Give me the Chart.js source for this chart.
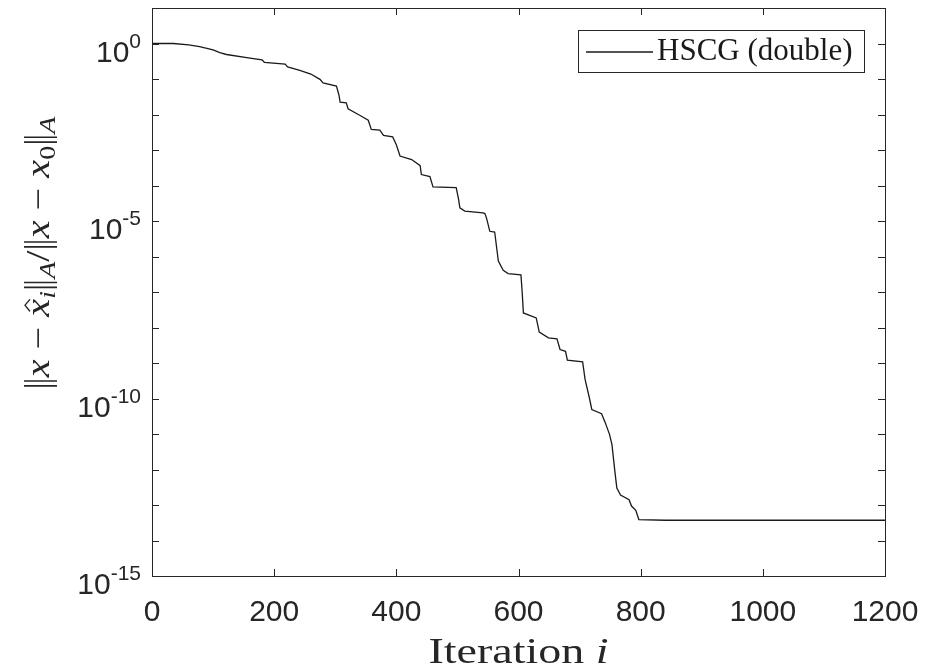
<!DOCTYPE html>
<html>
<head>
<meta charset="utf-8">
<script src="https://cdn.jsdelivr.net/npm/chart.js@4/dist/chart.umd.min.js"></script>
<style>
  html, body { margin: 0; padding: 0; background: #ffffff; }
  #c { display: block; }
</style>
</head>
<body>
<canvas id="c" width="930" height="671"></canvas>
<script>
// ---- Data ----
const iterations = [0, 35, 60, 78, 100, 111, 122, 155, 180, 184, 218, 222, 242, 260, 275, 280,
  302, 306, 308, 318, 321, 340, 354, 359, 373, 379, 394, 400, 406, 425, 439, 441, 455, 460,
  498, 502, 504, 512, 542, 545, 548, 553, 561, 567, 575, 583, 604, 606, 608, 629, 634, 649,
  663, 668, 677, 680, 705, 709, 716, 720, 736, 742, 749, 753, 758, 761, 767, 781, 785, 792,
  797, 840, 1200];
const errorHSCG = [1.0, 1.0, 0.912, 0.813, 0.661, 0.550, 0.490, 0.398, 0.347, 0.295, 0.263,
  0.219, 0.174, 0.138, 0.0977, 0.0776, 0.0631, 0.0355, 0.0224, 0.0214, 0.0145, 0.00955,
  0.00692, 0.00380, 0.00363, 0.00257, 0.00234, 0.00141, 6.76e-4, 5.37e-4, 3.63e-4, 2.04e-4,
  1.78e-4, 9.12e-5, 8.71e-5, 3.98e-5, 2.34e-5, 1.91e-5, 1.70e-5, 1.62e-5, 1.15e-5, 5.13e-6,
  4.90e-6, 7.41e-7, 4.07e-7, 3.31e-7, 3.02e-7, 1.0e-7, 2.57e-8, 1.86e-8, 7.41e-9, 5.13e-9,
  4.79e-9, 2.40e-9, 2.14e-9, 1.20e-9, 1.07e-9, 3.47e-10, 1.05e-10, 4.90e-11, 3.72e-11,
  2.09e-11, 9.77e-12, 5.01e-12, 8.13e-13, 3.02e-13, 1.91e-13, 1.41e-13, 9.33e-14, 7.08e-14,
  3.89e-14, 3.72e-14, 3.72e-14];
const seriesLabel = 'HSCG (double)';
const xTicks = [0, 200, 400, 600, 800, 1000, 1200];
const yDecades = [1, 0, -1, -2, -3, -4, -5, -6, -7, -8, -9, -10, -11, -12, -13, -14, -15];
const yLabelExponents = [0, -5, -10, -15];
const xTitle = ['Iteration ', 'i'];

const points = iterations.map((x, k) => ({ x: x, y: errorHSCG[k] }));

const SERIF = '"Liberation Serif", "Times New Roman", serif';
const SANS = '"Liberation Sans", Arial, sans-serif';

const decorPlugin = {
  id: 'decor',
  afterDraw(chart) {
    const ctx = chart.ctx;
    const a = chart.chartArea;
    const xs = chart.scales.x, ys = chart.scales.y;
    ctx.save();
    // frame
    ctx.strokeStyle = '#262626';
    ctx.lineWidth = 1;
    ctx.strokeRect(Math.round(a.left) + 0.5, Math.round(a.top) + 0.5,
      Math.round(a.right - a.left), Math.round(a.bottom - a.top));
    // inner ticks
    const tl = 7;
    ctx.beginPath();
    xTicks.forEach(v => {
      const px = Math.round(xs.getPixelForValue(v)) + 0.5;
      ctx.moveTo(px, a.bottom); ctx.lineTo(px, a.bottom - tl);
      ctx.moveTo(px, a.top); ctx.lineTo(px, a.top + tl);
    });
    yDecades.forEach(e => {
      const py = Math.round(ys.getPixelForValue(Math.pow(10, e))) + 0.5;
      ctx.moveTo(a.left, py); ctx.lineTo(a.left + tl, py);
      ctx.moveTo(a.right, py); ctx.lineTo(a.right - tl, py);
    });
    ctx.stroke();

    // y tick labels 10^e
    ctx.fillStyle = '#262626';
    ctx.textBaseline = 'alphabetic';
    yLabelExponents.forEach(e => {
      const py = ys.getPixelForValue(Math.pow(10, e));
      const expText = String(e);
      ctx.font = '21px ' + SANS;
      const ew = ctx.measureText(expText).width;
      ctx.font = '30px ' + SANS;
      const bw = ctx.measureText('10').width;
      const right = a.left - 11;
      ctx.textAlign = 'left';
      ctx.fillText('10', right - ew - bw, py + 18);
      ctx.font = '21px ' + SANS;
      ctx.fillText(expText, right - ew, py + 4);
    });

    // x title
    ctx.fillStyle = '#262626';
    ctx.font = '35px ' + SERIF;
    const w1 = ctx.measureText(xTitle[0]).width;
    ctx.font = 'italic 35px ' + SERIF;
    const w2 = ctx.measureText(xTitle[1]).width;
    const targetW = 180;
    const kx = targetW / (w1 + w2);
    const cx = (a.left + a.right) / 2;
    ctx.save();
    ctx.translate(cx - targetW / 2, 663);
    ctx.scale(kx, 1);
    ctx.textAlign = 'left';
    ctx.font = '35px ' + SERIF;
    ctx.fillText(xTitle[0], 0, 0);
    ctx.font = 'italic 35px ' + SERIF;
    ctx.fillText(xTitle[1], w1, 0);
    ctx.restore();

    // y title (rotated, with subscripts)
    const fs = 33, ss = 23;
    const segs = [
      { bar: true }, { t: 'x', it: true }, { t: ' \u2212 ', it: false },
      { t: 'x', it: true, hat: true }, { t: 'i', it: true, sub: true },
      { bar: true }, { t: 'A', it: true, sub: true },
      { t: '/', it: false }, { bar: true }, { t: 'x', it: true },
      { t: ' \u2212 ', it: false }, { t: 'x', it: true }, { t: '0', it: false, sub: true },
      { bar: true }, { t: 'A', it: true, sub: true }
    ];
    const fontFor = s => (s.it ? 'italic ' : '') + (s.sub ? ss : fs) + 'px ' + SERIF;
    let total = 0;
    segs.forEach(s => {
      if (s.bar) { s.w = 10; }
      else { ctx.font = fontFor(s); s.w = ctx.measureText(s.t).width; }
      total += s.w;
    });
    const targetL = 273;
    const ky = targetL / total;
    ctx.save();
    ctx.translate(49, 253);
    ctx.rotate(-Math.PI / 2);
    ctx.scale(ky, 1);
    let px = -total / 2;
    ctx.fillStyle = '#262626';
    ctx.strokeStyle = '#262626';
    segs.forEach(s => {
      if (s.bar) {
        ctx.lineWidth = 1.3;
        ctx.beginPath();
        ctx.moveTo(px + 3, -25); ctx.lineTo(px + 3, 8);
        ctx.moveTo(px + 7, -25); ctx.lineTo(px + 7, 8);
        ctx.stroke();
      } else {
        ctx.font = fontFor(s);
        ctx.fillText(s.t, px, s.sub ? 6 : 0);
        if (s.hat) {
          const hc = px + s.w / 2 + 2;
          ctx.lineWidth = 1.2;
          ctx.beginPath();
          ctx.moveTo(hc - 5, -19); ctx.lineTo(hc, -24); ctx.lineTo(hc + 5, -19);
          ctx.stroke();
        }
      }
      px += s.w;
    });
    ctx.restore();
    ctx.restore();

    // legend
    ctx.save();
    const lx = 578, ly = 30, lw = 286, lh = 42;
    ctx.fillStyle = '#ffffff';
    ctx.fillRect(lx, ly, lw, lh);
    ctx.strokeStyle = '#262626';
    ctx.lineWidth = 1;
    ctx.strokeRect(lx + 0.5, ly + 0.5, lw, lh);
    ctx.strokeStyle = '#1a1a1a';
    ctx.lineWidth = 1.3;
    ctx.beginPath();
    ctx.moveTo(586, 52); ctx.lineTo(653, 52);
    ctx.stroke();
    ctx.fillStyle = '#1a1a1a';
    ctx.font = '31px ' + SERIF;
    ctx.textBaseline = 'alphabetic';
    ctx.textAlign = 'left';
    ctx.fillText(chart.data.datasets[0].label, 657, 60);
    ctx.restore();
  }
};

new Chart(document.getElementById('c'), {
  type: 'line',
  data: {
    datasets: [{
      label: seriesLabel,
      data: points,
      borderColor: '#1a1a1a',
      borderWidth: 1.3,
      pointRadius: 0,
      tension: 0,
      fill: false
    }]
  },
  options: {
    responsive: false,
    animation: false,
    devicePixelRatio: 1,
    layout: { padding: { top: 8, right: 45, left: 0, bottom: 0 } },
    plugins: { legend: { display: false }, tooltip: { enabled: false } },
    scales: {
      x: {
        type: 'linear', min: 0, max: 1200,
        grid: { display: false, drawTicks: false },
        border: { display: false },
        ticks: {
          stepSize: 200, padding: 19, color: '#262626', maxRotation: 0,
          font: { family: SANS, size: 30 },
          callback: v => String(v)
        },
        afterBuildTicks(scale) { scale.ticks = xTicks.map(v => ({ value: v })); },
        afterFit(scale) { scale.height = 95; scale.paddingRight = 0; scale.paddingLeft = 0; }
      },
      y: {
        type: 'logarithmic', min: 1e-15, max: 10,
        grid: { display: false, drawTicks: false },
        border: { display: false },
        ticks: { display: false },
        afterBuildTicks(scale) { scale.ticks = yDecades.map(e => ({ value: Math.pow(10, e) })); },
        afterFit(scale) { scale.width = 152; scale.paddingTop = 0; scale.paddingBottom = 0; }
      }
    }
  },
  plugins: [decorPlugin]
});
</script>
</body>
</html>
